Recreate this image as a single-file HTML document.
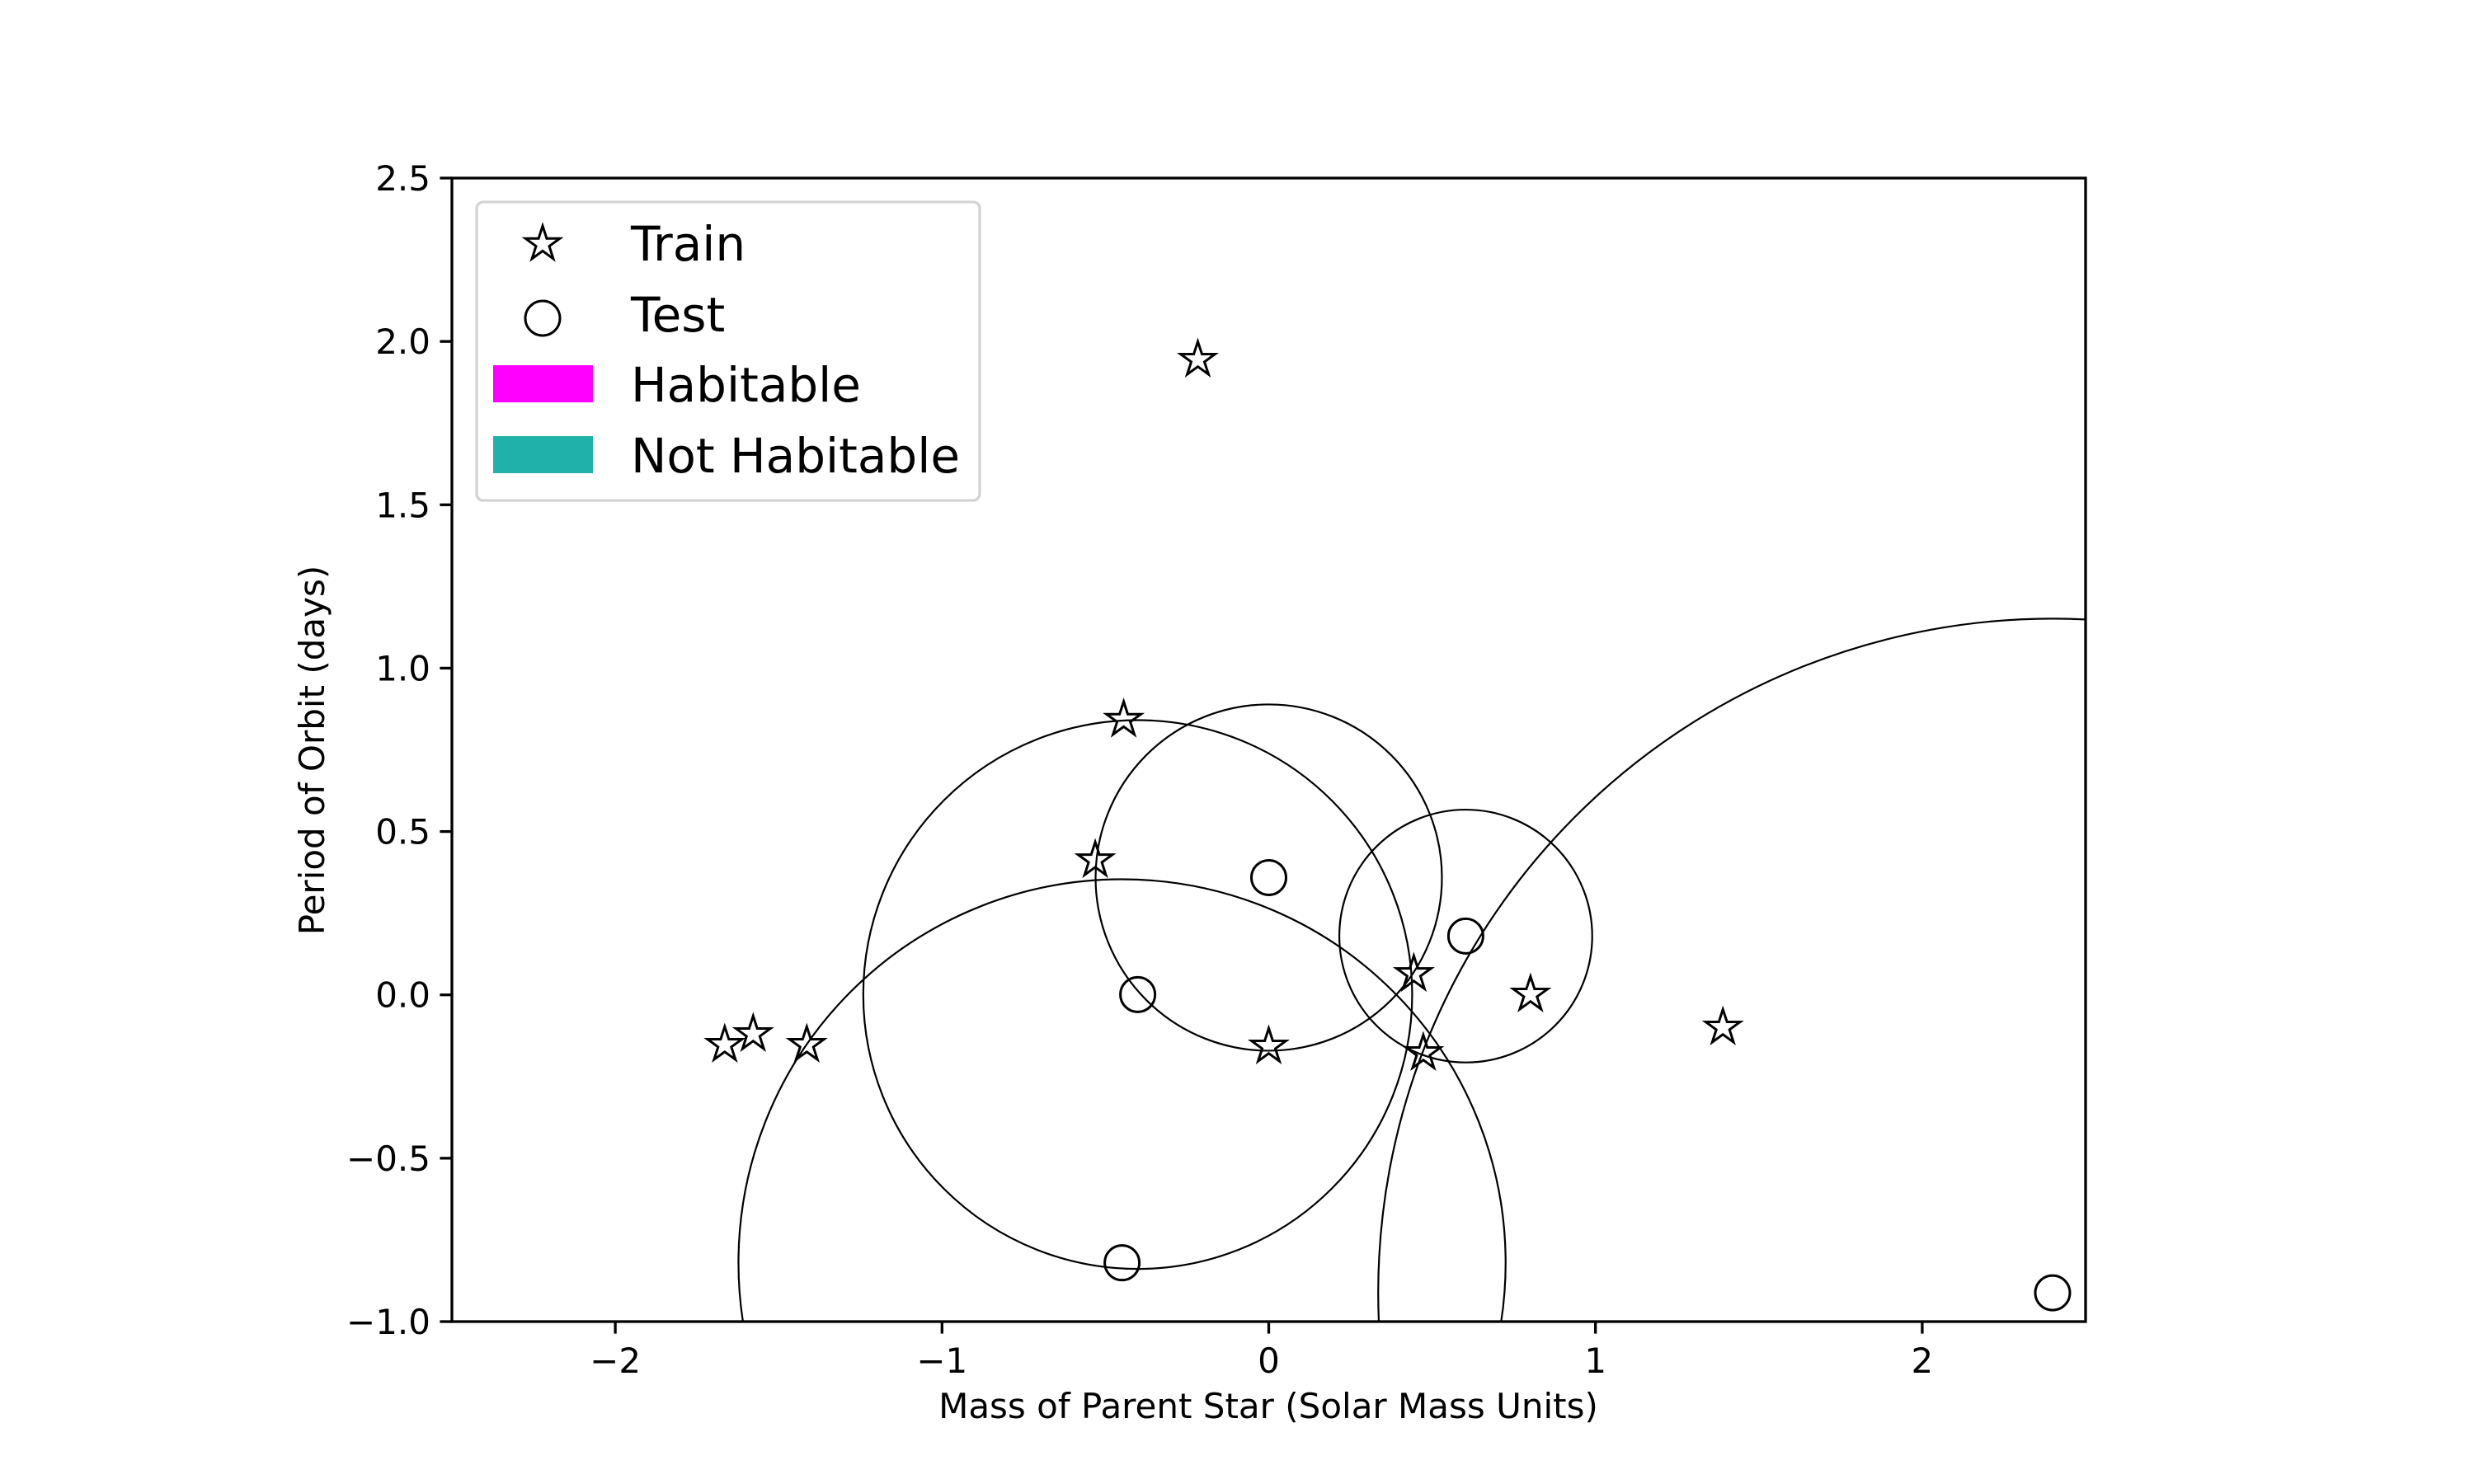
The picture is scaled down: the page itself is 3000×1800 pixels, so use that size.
<!DOCTYPE html>
<html><head><meta charset="utf-8"><style>
html,body{margin:0;padding:0;background:#fff;width:3000px;height:1800px;overflow:hidden}
svg{display:block;font-family:"DejaVu Sans","Liberation Sans",sans-serif;vertical-align:top}
</style></head><body>
<svg id="chart" width="3000" height="1800" viewBox="0 0 3000 1800" xmlns="http://www.w3.org/2000/svg">
<defs><clipPath id="plotclip"><rect x="548" y="216" width="1981" height="1387"/></clipPath></defs>
<rect width="3000" height="1800" fill="#fff"/>
<g id="circles" clip-path="url(#plotclip)"></g>
<g id="marks"></g>
<rect x="548" y="216" width="1981" height="1387" fill="none" stroke="#000" stroke-width="3.3"/>
<g id="xticks"></g>
<g id="yticks"></g>
<text x="1538" y="1720" font-size="42" text-anchor="middle">Mass of Parent Star (Solar Mass Units)</text>
<text x="0" y="0" font-size="42" text-anchor="middle" transform="translate(393,910) rotate(-90)">Period of Orbit (days)</text>
<g>
<rect x="578" y="245" width="610" height="362" rx="8" fill="#fff" fill-opacity="0.8" stroke="#d3d3d3" stroke-width="3.3"/>
<g><path id="legstar" fill="none" stroke="#000" stroke-width="3"/><text x="765" y="316" font-size="58">Train</text></g>
<g><circle cx="658" cy="386" r="21" fill="none" stroke="#000" stroke-width="3"/><text x="765" y="402" font-size="58">Test</text></g>
<g><rect x="598" y="443" width="121" height="45" fill="#ff00ff"/><text x="765" y="487" font-size="58">Habitable</text></g>
<g><rect x="598" y="529" width="121" height="45" fill="#20b2aa"/><text x="765" y="573" font-size="58">Not Habitable</text></g>
</g>
</svg>
<script>
const trainX = [-0.217, -0.444, -0.531, 0.444, 0.801, 0.0, 0.473, 1.39, -1.665, -1.578, -1.414];
const trainY = [1.944, 0.842, 0.412, 0.064, 0.001, -0.158, -0.178, -0.10, -0.153, -0.12, -0.153];
const testX = [0.0, -0.401, 0.603, -0.449, 2.399];
const testY = [0.359, 0.001, 0.180, -0.820, -0.912];
const testRadius = [0.53, 0.84, 0.387, 1.174, 2.064];
const xTicks = [-2, -1, 0, 1, 2];
const yTicks = [-1.0, -0.5, 0.0, 0.5, 1.0, 1.5, 2.0, 2.5];

const NS = "http://www.w3.org/2000/svg";
const L=548,R=2529,T=216,B=1603, XMIN=-2.5,XMAX=2.5,YMIN=-1,YMAX=2.5;
const sx = v => L + (v - XMIN) / (XMAX - XMIN) * (R - L);
const sy = v => B - (v - YMIN) / (YMAX - YMIN) * (B - T);
const unit = (R - L) / (XMAX - XMIN);
function mk(tag, attrs, parent){const e=document.createElementNS(NS,tag);for(const k in attrs)e.setAttribute(k,attrs[k]);parent.appendChild(e);return e;}
function starPath(cx,cy,r){const ri=r*0.382;let d="";for(let i=0;i<10;i++){const a=-Math.PI/2+i*Math.PI/5;const rr=i%2?ri:r;d+=(i?"L":"M")+(cx+rr*Math.cos(a)).toFixed(1)+","+(cy+rr*Math.sin(a)).toFixed(1);}return d+"Z";}
document.getElementById('legstar').setAttribute('d', starPath(658,296,22));

const cg = document.getElementById('circles');
testX.forEach((x,i)=>{
  const c = mk('circle',{cx:sx(x),cy:sy(testY[i]),r:testRadius[i]*unit,fill:'none',stroke:'#000','stroke-width':2.2},cg);
  
  
});
const mg = document.getElementById('marks');
trainX.forEach((x,i)=>{
  const p = mk('path',{d:starPath(sx(x),sy(trainY[i]),22),fill:'none',stroke:'#000','stroke-width':3,'stroke-linejoin':'miter'},mg);
  
  
});
testX.forEach((x,i)=>{
  const c = mk('circle',{cx:sx(x),cy:sy(testY[i]),r:21,fill:'none',stroke:'#000','stroke-width':3},mg);
  
  
});
const xg = document.getElementById('xticks');
xTicks.forEach(v=>{
  const X=sx(v);
  const ln = mk('line',{x1:X,x2:X,y1:B,y2:B+14.6,stroke:'#000','stroke-width':3.3},xg);
  
  
  const t = mk('text',{x:X,y:B+62,'font-size':42,'text-anchor':'middle'},xg);
  t.textContent = v<0 ? '\u2212'+Math.abs(v) : String(v);
  
  
});
const yg = document.getElementById('yticks');
yTicks.forEach(v=>{
  const Y=sy(v);
  const ln = mk('line',{x1:L-14.6,x2:L,y1:Y,y2:Y,stroke:'#000','stroke-width':3.3},yg);
  
  
  const t = mk('text',{x:L-26,y:Y+15,'font-size':42,'text-anchor':'end'},yg);
  t.textContent = (v<0?'\u2212':'')+Math.abs(v).toFixed(1);
  
  
});
</script>
</body></html>
